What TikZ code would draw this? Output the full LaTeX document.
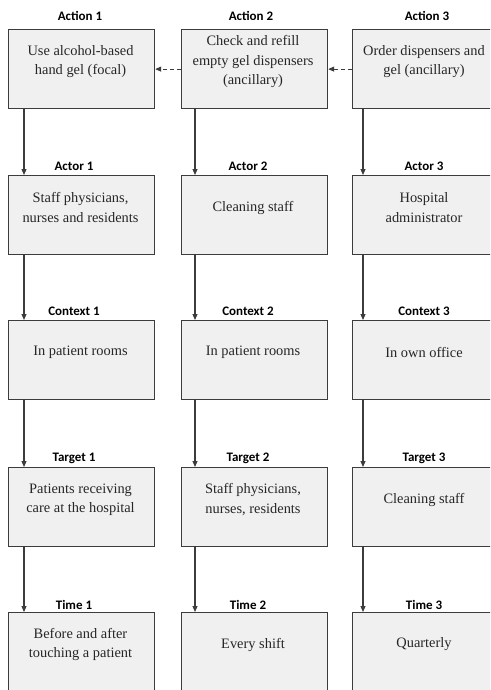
\documentclass[tikz,border=0pt]{standalone}
\usepackage{fontspec}
\setmainfont{Liberation Serif}
\newfontfamily\labelfont{Carlito}
\usetikzlibrary{arrows.meta}
\definecolor{boxgray}{HTML}{F0F0F0}
\definecolor{edgegray}{HTML}{3C3C3C}
\begin{document}
\begin{tikzpicture}[x=1pt,y=-1pt,
  cell/.style={draw=edgegray, fill=boxgray, line width=1.2pt, minimum width=146pt,
    minimum height=79pt, anchor=north west, inner sep=0pt},
  celltext/.style={align=center, inner sep=0pt, font=\fontsize{14.4}{19.3}\selectfont, text=black!85},
  tag/.style={inner sep=0pt, font=\labelfont\bfseries\fontsize{13}{15}\selectfont},
  flow/.style={draw=edgegray, line width=1.1pt, -{Triangle[length=6pt,width=5pt]}},
  feed/.style={flow, dashed, dash pattern=on 4pt off 3pt}]
\useasboundingbox (0,0) rectangle (490,690);
\fill[white] (0,0) rectangle (490,690);
\clip (0,0) rectangle (490,690);

% boxes: columns at x = 8, 181, 352; rows at y = 29, 175, 320, 467, 612
\node[cell] (a1) at (8,29) {};
\node[cell] (a2) at (181,29) {};
\node[cell] (a3) at (352,29) {};
\node[cell] (b1) at (8,175) {};
\node[cell] (b2) at (181,175) {};
\node[cell] (b3) at (352,175) {};
\node[cell] (c1) at (8,320) {};
\node[cell] (c2) at (181,320) {};
\node[cell] (c3) at (352,320) {};
\node[cell] (d1) at (8,467) {};
\node[cell] (d2) at (181,467) {};
\node[cell] (d3) at (352,467) {};
\node[cell] (e1) at (8,612) {};
\node[cell] (e2) at (181,612) {};
\node[cell] (e3) at (352,612) {};

% box contents, set a little above each box centre
\node[celltext] (ta1) at (80.5,61.5) {Use alcohol-based\\hand gel (focal)};
\node[celltext] (ta2) at (253,61.5) {Check and refill\\empty gel dispensers\\(ancillary)};
\node[celltext] (ta3) at (424,61.5) {Order dispensers and\\gel (ancillary)};
\node[celltext] (tb1) at (80.5,207.5) {Staff physicians,\\nurses and residents};
\node[celltext] (tb2) at (253,207.5) {Cleaning staff};
\node[celltext] (tb3) at (424,207.5) {Hospital\\administrator};
\node[celltext] (tc1) at (80.5,352.5) {In patient rooms};
\node[celltext] (tc2) at (253,352.5) {In patient rooms};
\node[celltext] (tc3) at (424,352.5) {In own office};
\node[celltext] (td1) at (80.5,499.5) {Patients receiving\\care at the hospital};
\node[celltext] (td2) at (253,499.5) {Staff physicians,\\nurses, residents};
\node[celltext] (td3) at (424,499.5) {Cleaning staff};
\node[celltext] (te1) at (80.5,644.5) {Before and after\\touching a patient};
\node[celltext] (te2) at (253,644.5) {Every shift};
\node[celltext] (te3) at (424,644.5) {Quarterly};

% headings above the boxes
\node[tag] (la1) at (80,16) {Action 1};
\node[tag] (la2) at (251,16) {Action 2};
\node[tag] (la3) at (427,16) {Action 3};
\node[tag] (lb1) at (74,166) {Actor 1};
\node[tag] (lb2) at (248,166) {Actor 2};
\node[tag] (lb3) at (424,166) {Actor 3};
\node[tag] (lc1) at (74,311) {Context 1};
\node[tag] (lc2) at (248,311) {Context 2};
\node[tag] (lc3) at (424,311) {Context 3};
\node[tag] (ld1) at (74,458) {Target 1};
\node[tag] (ld2) at (248,458) {Target 2};
\node[tag] (ld3) at (424,458) {Target 3};
\node[tag] (le1) at (74,605) {Time 1};
\node[tag] (le2) at (248,605) {Time 2};
\node[tag] (le3) at (424,605) {Time 3};

% dependencies between actions
\draw[feed] (a2.west) -- (a1.east);
\draw[feed] (a3.west) -- (a2.east);

% downward chains in each column
\foreach \u/\v in {a/b, b/c, c/d, d/e} {
  \draw[flow] ([xshift=16pt]\u1.south west) -- ([xshift=16pt]\v1.north west);
  \draw[flow] ([xshift=14pt]\u2.south west) -- ([xshift=14pt]\v2.north west);
  \draw[flow] ([xshift=11pt]\u3.south west) -- ([xshift=11pt]\v3.north west);
}
\end{tikzpicture}
\end{document}
